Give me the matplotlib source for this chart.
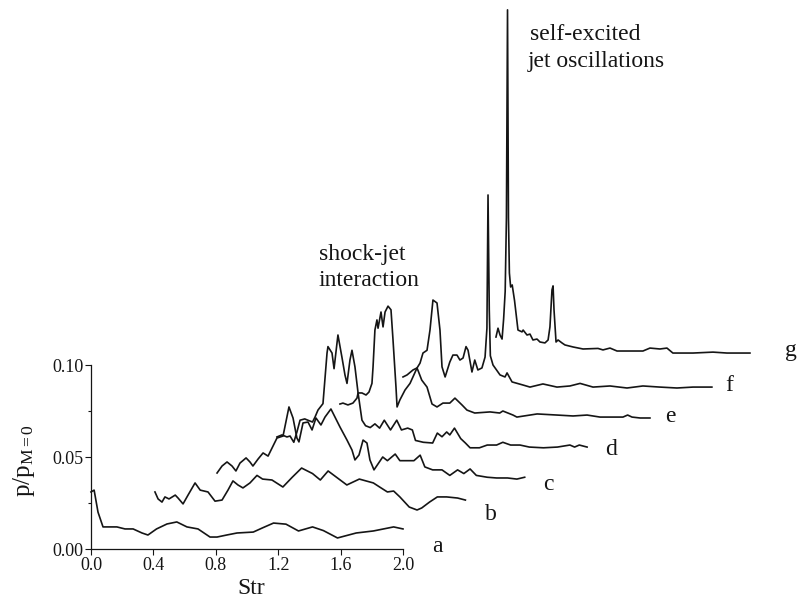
#
# waterfall plot of pressure spectra, curves a-g shifted in Str and p
#

import numpy as np
import matplotlib
matplotlib.use("Agg")
import matplotlib.pyplot as plt

plt.rcParams['font.family'] = ['Liberation Serif', 'DejaVu Serif']
plt.rcParams['mathtext.fontset'] = 'custom'
plt.rcParams['mathtext.rm'] = 'Liberation Serif'
plt.rcParams['mathtext.it'] = 'Liberation Serif:italic'

# curve a
a_str = [0.0, 0.02, 0.045, 0.077, 0.12, 0.166, 0.218, 0.27, 0.327, 0.365, 0.42, 0.487,
         0.55, 0.615, 0.686, 0.763, 0.808, 0.87, 0.936, 1.04, 1.10, 1.17, 1.25, 1.33,
         1.42, 1.49, 1.58, 1.70, 1.81, 1.94, 2.0]
a_val = [0.031, 0.032, 0.020, 0.012, 0.012, 0.012, 0.0109, 0.0109, 0.0087, 0.0076, 0.0109, 0.0136,
         0.0147, 0.012, 0.0109, 0.0065, 0.0065, 0.0076, 0.0087, 0.0092, 0.0115, 0.0141, 0.0135, 0.0098,
         0.012, 0.010, 0.006, 0.0087, 0.0098, 0.012, 0.0109]

# curve b
b_str = [0.41, 0.43, 0.455, 0.474, 0.50, 0.54, 0.558, 0.59, 0.622, 0.667, 0.70, 0.75, 0.795,
         0.84, 0.878, 0.91, 0.942, 0.974, 1.019, 1.064, 1.10, 1.16, 1.23, 1.29, 1.35, 1.42,
         1.47, 1.52, 1.58, 1.64, 1.72, 1.81, 1.85, 1.90, 1.94, 1.98, 2.04, 2.09, 2.12, 2.17,
         2.22, 2.28, 2.35, 2.40]
b_val = [0.031, 0.0272, 0.0255, 0.0283, 0.0272, 0.0293, 0.0277, 0.0245, 0.0293, 0.0359, 0.032, 0.031, 0.026,
         0.0266, 0.032, 0.037, 0.0348, 0.0332, 0.0359, 0.040, 0.038, 0.0375, 0.0337, 0.039, 0.044, 0.041,
         0.0375, 0.0424, 0.0386, 0.0348, 0.038, 0.0359, 0.0337, 0.031, 0.0315, 0.0283, 0.0228, 0.0212, 0.0223, 0.0255,
         0.0283, 0.0283, 0.0277, 0.0266]

# curve c
c_str = [0.808, 0.84, 0.872, 0.904, 0.929, 0.955, 0.994, 1.019, 1.038, 1.071, 1.103, 1.135, 1.167,
         1.192, 1.231, 1.269, 1.295, 1.32, 1.333, 1.359, 1.391, 1.417, 1.442, 1.474, 1.50, 1.538,
         1.564, 1.596, 1.641, 1.673, 1.692, 1.718, 1.744, 1.769, 1.788, 1.814, 1.83, 1.87, 1.90,
         1.95, 1.98, 2.02, 2.07, 2.11, 2.14, 2.19, 2.25, 2.30, 2.35, 2.39, 2.43, 2.47, 2.54,
         2.60, 2.67, 2.73, 2.78]
c_val = [0.0413, 0.0451, 0.0473, 0.0451, 0.0424, 0.0467, 0.0495, 0.0473, 0.0451, 0.0489, 0.0522, 0.0505, 0.056,
         0.0603, 0.0614, 0.0772, 0.0712, 0.0603, 0.0582, 0.0685, 0.069, 0.0647, 0.0712, 0.0674, 0.0717, 0.0761,
         0.0717, 0.0663, 0.0592, 0.0538, 0.0484, 0.0511, 0.0592, 0.0576, 0.0484, 0.043, 0.045, 0.050, 0.048,
         0.0516, 0.048, 0.048, 0.048, 0.051, 0.0446, 0.043, 0.043, 0.040, 0.043, 0.041, 0.0435, 0.040, 0.039,
         0.0386, 0.0386, 0.038, 0.039]

# curve d
d_str = [1.192, 1.224, 1.256, 1.276, 1.30, 1.32, 1.34, 1.37, 1.39, 1.42, 1.436, 1.455, 1.487,
         1.513, 1.519, 1.545, 1.558, 1.577, 1.583, 1.609, 1.628, 1.641, 1.66, 1.673, 1.692, 1.712,
         1.737, 1.76, 1.79, 1.82, 1.85, 1.88, 1.92, 1.96, 1.99, 2.03, 2.06, 2.08, 2.13, 2.19,
         2.22, 2.25, 2.28, 2.30, 2.33, 2.37, 2.40, 2.43, 2.49, 2.54, 2.60, 2.64, 2.69, 2.75,
         2.81, 2.90, 2.99, 3.07, 3.10, 3.13, 3.18]
d_val = [0.0609, 0.062, 0.0609, 0.0614, 0.058, 0.0636, 0.070, 0.0707, 0.070, 0.069, 0.0717, 0.0755, 0.079,
         0.1065, 0.110, 0.1065, 0.098, 0.112, 0.1163, 0.104, 0.0946, 0.090, 0.1027, 0.108, 0.099, 0.0848,
         0.070, 0.067, 0.066, 0.068, 0.0657, 0.070, 0.0647, 0.070, 0.0647, 0.0657, 0.0647, 0.059, 0.058, 0.0576,
         0.063, 0.061, 0.0636, 0.062, 0.0657, 0.060, 0.0576, 0.055, 0.055, 0.0565, 0.0565, 0.058, 0.0565, 0.0565,
         0.0554, 0.055, 0.0554, 0.0565, 0.0554, 0.0565, 0.0554]

# curve e
e_str = [1.596, 1.615, 1.647, 1.679, 1.705, 1.712, 1.737, 1.763, 1.782, 1.801, 1.808, 1.82, 1.833,
         1.84, 1.859, 1.872, 1.885, 1.904, 1.923, 1.936, 1.955, 1.962, 1.98, 2.013, 2.045, 2.09,
         2.12, 2.154, 2.186, 2.218, 2.256, 2.30, 2.333, 2.378, 2.41, 2.46, 2.558, 2.62, 2.64,
         2.705, 2.73, 2.86, 2.987, 3.09, 3.18, 3.263, 3.346, 3.41, 3.44, 3.468, 3.52, 3.583]
e_val = [0.0788, 0.0793, 0.0783, 0.0793, 0.082, 0.0848, 0.0848, 0.0837, 0.0853, 0.090, 0.099, 0.119, 0.1245,
         0.120, 0.1288, 0.1207, 0.1288, 0.132, 0.130, 0.1136, 0.088, 0.0772, 0.081, 0.0864, 0.090, 0.0984,
         0.0918, 0.088, 0.0788, 0.0772, 0.0793, 0.0793, 0.082, 0.0783, 0.0755, 0.0739, 0.0745, 0.0739, 0.075,
         0.0728, 0.0717, 0.0734, 0.0728, 0.0723, 0.0728, 0.0717, 0.0717, 0.0717, 0.0728, 0.0717, 0.0712, 0.0712]

# curve f
f_str = [2.0, 2.026, 2.064, 2.09, 2.109, 2.128, 2.154, 2.173, 2.192, 2.218, 2.237, 2.25, 2.27,
         2.30, 2.32, 2.346, 2.365, 2.385, 2.404, 2.417, 2.442, 2.46, 2.48, 2.506, 2.526, 2.538,
         2.545, 2.553, 2.56, 2.577, 2.622, 2.654, 2.667, 2.699, 2.77, 2.814, 2.897, 2.987, 3.07,
         3.135, 3.218, 3.327, 3.436, 3.538, 3.647, 3.756, 3.859, 3.98]
f_val = [0.0935, 0.0946, 0.0973, 0.0984, 0.101, 0.1065, 0.108, 0.119, 0.1353, 0.1337, 0.119, 0.099, 0.0935,
         0.1016, 0.1054, 0.1054, 0.1027, 0.1038, 0.110, 0.108, 0.0962, 0.1027, 0.0973, 0.0984, 0.1043, 0.120,
         0.1924, 0.130, 0.105, 0.100, 0.0946, 0.0935, 0.0957, 0.0908, 0.0891, 0.088, 0.0897, 0.088, 0.0886,
         0.090, 0.088, 0.0886, 0.0875, 0.0886, 0.088, 0.0875, 0.088, 0.088]

# curve g
g_str = [2.596, 2.609, 2.622, 2.635, 2.645, 2.655, 2.663, 2.670, 2.676, 2.682, 2.69, 2.70, 2.715,
         2.737, 2.763, 2.77, 2.795, 2.814, 2.833, 2.859, 2.878, 2.91, 2.93, 2.942, 2.955, 2.962,
         2.968, 2.981, 2.994, 3.019, 3.038, 3.09, 3.154, 3.25, 3.282, 3.327, 3.372, 3.455, 3.538,
         3.583, 3.647, 3.692, 3.73, 3.859, 3.987, 4.077, 4.224]
g_val = [0.1152, 0.120, 0.1163, 0.1141, 0.125, 0.14, 0.18, 0.293, 0.18, 0.15, 0.1424, 0.1435, 0.135,
         0.119, 0.118, 0.119, 0.1163, 0.1168, 0.1136, 0.1141, 0.1125, 0.112, 0.1136, 0.1207, 0.1408, 0.143,
         0.130, 0.1125, 0.1136, 0.112, 0.1109, 0.1098, 0.1087, 0.109, 0.1082, 0.1092, 0.1076, 0.1076, 0.1076,
         0.1092, 0.1087, 0.1092, 0.1065, 0.1065, 0.107, 0.1065, 0.1065]

curves = [(a_str, a_val), (b_str, b_val), (c_str, c_val), (d_str, d_val),
          (e_str, e_val), (f_str, f_val), (g_str, g_val)]

curve_names = ["a", "b", "c", "d", "e", "f", "g"]
name_str = [2.186, 2.526, 2.897, 3.295, 3.679, 4.064, 4.449]
name_val = [-0.0016, 0.0158, 0.0321, 0.0511, 0.069, 0.0859, 0.1049]

xticks = [0.0, 0.4, 0.8, 1.2, 1.6, 2.0]
yticks = [0.00, 0.05, 0.10]

fig = plt.figure(figsize=(7.98, 6.01), dpi=100)
ax = fig.add_axes([91/798, 52/601, 312/798, 184/601])

lc = "#151515"
for xs, ys in curves :
    ax.plot(xs, ys, color=lc, lw=1.2, clip_on=False)

for name, xs, ys in zip(curve_names, name_str, name_val) :
    ax.text(xs, ys, name, fontsize=17, ha="left", va="baseline", color=lc)

ax.text(1.4615, 0.1571, "shock-jet", fontsize=17, ha="left", va="baseline", color=lc)
ax.text(1.4615, 0.1429, "interaction", fontsize=17, ha="left", va="baseline", color=lc)
ax.text(2.814, 0.2766, "self-excited", fontsize=17, ha="left", va="baseline", color=lc)
ax.text(2.801, 0.262, "jet oscillations", fontsize=17, ha="left", va="baseline", color=lc)

ax.set_xlim(0, 2.0)
ax.set_ylim(0, 0.10)
ax.set_xticks(xticks)
ax.set_xticklabels(["%.1f" % t for t in xticks])
ax.set_yticks(yticks)
ax.set_yticklabels(["%.2f" % t for t in yticks])
ax.set_yticks([0.025, 0.075], minor=True)
ax.tick_params(axis="both", which="major", labelsize=13, length=4, width=0.8, pad=1.5, colors=lc)
ax.tick_params(axis="y", which="minor", length=2, width=0.8, colors=lc)

ax.spines["top"].set_visible(False)
ax.spines["right"].set_visible(False)
ax.spines["left"].set_linewidth(0.9)
ax.spines["bottom"].set_linewidth(0.9)
ax.spines["left"].set_color(lc)
ax.spines["bottom"].set_color(lc)
ax.patch.set_visible(False)

ax.text(1.026, -0.0245, "Str", fontsize=17, ha="center", va="baseline", color=lc)
ax.text(-0.429, 0.0478, r"p/p$_{\mathrm{M=0}}$", fontsize=18, rotation=90,
        ha="center", va="center", color=lc)

fig.savefig("out.png", dpi=100)
